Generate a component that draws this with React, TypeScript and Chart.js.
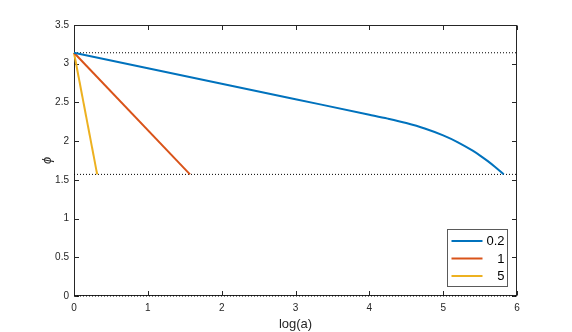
import { useEffect, useRef } from 'react';
import { Chart, registerables } from 'chart.js';

Chart.register(...registerables);

// ---- data ----
const seriesLabels = ['0.2', '1', '5'];
const seriesColors = ['#0072BD', '#D95319', '#EDB120'];

const blueX = [0, 1, 2, 3, 4, 4.25, 4.5, 4.75, 5.0, 5.2, 5.4, 5.5, 5.6, 5.7, 5.76, 5.82];
const blueY = [3.1416, 2.9416, 2.7416, 2.5416, 2.3416, 2.2905, 2.2332, 2.1631, 2.0741, 1.9849, 1.8764, 1.8137, 1.7451, 1.6699, 1.6216, 1.5708];

const redX = [0, 1.571];
const redY = [3.1416, 1.5708];

const yellowX = [0, 0.314];
const yellowY = [3.1416, 1.5708];

const refLevels = [3.1416, 1.5708, 0];
const refX = [0, 6];

const xTicks = [0, 1, 2, 3, 4, 5, 6];
const yTicks = [0, 0.5, 1, 1.5, 2, 2.5, 3, 3.5];

const xTitle = 'log(a)';
const yTitle = 'ϕ';

const FONT = "'Liberation Sans', Arial, Helvetica, sans-serif";
const AXIS_COLOR = '#262626';

const toPts = (xs: number[], ys: number[]) => xs.map((x, i) => ({ x, y: ys[i] }));

const axesBoxPlugin = {
  id: 'axesBox',
  beforeDatasetsDraw(chart: any) {
    const { ctx, chartArea } = chart;
    const xs = chart.scales.x;
    const ys = chart.scales.y;
    const l = Math.round(chartArea.left) + 0.5;
    const r = Math.round(chartArea.right) - 0.5;
    const t = Math.round(chartArea.top) + 0.5;
    const b = Math.round(chartArea.bottom) - 0.5;
    ctx.save();
    ctx.strokeStyle = AXIS_COLOR;
    ctx.lineWidth = 1;
    ctx.strokeRect(l, t, r - l, b - t);
    const tl = 4.5;
    ctx.beginPath();
    xTicks.forEach((v) => {
      const px = Math.round(xs.getPixelForValue(v)) + 0.5;
      ctx.moveTo(px, b);
      ctx.lineTo(px, b - tl);
      ctx.moveTo(px, t);
      ctx.lineTo(px, t + tl);
    });
    yTicks.forEach((v) => {
      const py = Math.round(ys.getPixelForValue(v)) + 0.5;
      ctx.moveTo(l, py);
      ctx.lineTo(l + tl, py);
      ctx.moveTo(r, py);
      ctx.lineTo(r - tl, py);
    });
    ctx.stroke();
    ctx.restore();
  },
};

const legendPlugin = {
  id: 'matlabLegend',
  afterDraw(chart: any) {
    const { ctx, chartArea } = chart;
    const w = 60;
    const h = 57;
    const right = Math.round(chartArea.right) - 9.5;
    const bottom = Math.round(chartArea.bottom) - 9.5;
    const left = right - w;
    const top = bottom - h;
    ctx.save();
    ctx.fillStyle = '#ffffff';
    ctx.fillRect(left, top, w, h);
    ctx.strokeStyle = '#5a5a5a';
    ctx.lineWidth = 1;
    ctx.strokeRect(left, top, w, h);
    ctx.font = `13px ${FONT}`;
    ctx.textAlign = 'right';
    ctx.textBaseline = 'middle';
    const rows = [11.5, 29, 46.5];
    seriesLabels.forEach((lab, i) => {
      const y = top + rows[i];
      ctx.strokeStyle = seriesColors[i];
      ctx.lineWidth = 2;
      ctx.beginPath();
      ctx.moveTo(left + 4, y);
      ctx.lineTo(left + 35, y);
      ctx.stroke();
      ctx.fillStyle = '#000000';
      ctx.fillText(lab, right - 3, y + 0.5);
    });
    ctx.restore();
  },
};

export default function App() {
  const ref = useRef<HTMLCanvasElement | null>(null);

  useEffect(() => {
    if (!ref.current) return;
    Chart.defaults.font.family = FONT;

    const refSets = refLevels.map((lv) => ({
      label: 'ref',
      data: toPts(refX, refX.map(() => lv)),
      borderColor: '#000000',
      borderWidth: 1,
      borderDash: [1, 2],
      pointRadius: 0,
      clip: false as any,
      order: 2,
    }));

    const chart = new Chart(ref.current, {
      type: 'line',
      data: {
        datasets: [
          ...refSets,
          {
            label: seriesLabels[0],
            data: toPts(blueX, blueY),
            borderColor: seriesColors[0],
            borderWidth: 2,
            pointRadius: 0,
            cubicInterpolationMode: 'monotone',
            clip: false as any,
            order: 1,
          },
          {
            label: seriesLabels[1],
            data: toPts(redX, redY),
            borderColor: seriesColors[1],
            borderWidth: 2,
            pointRadius: 0,
            clip: false as any,
            order: 1,
          },
          {
            label: seriesLabels[2],
            data: toPts(yellowX, yellowY),
            borderColor: seriesColors[2],
            borderWidth: 2,
            pointRadius: 0,
            clip: false as any,
            order: 1,
          },
        ],
      },
      options: {
        animation: false,
        responsive: false,
        layout: { padding: { top: 25, right: 55, left: 0, bottom: 0 } },
        plugins: {
          legend: { display: false },
          tooltip: { enabled: false },
        },
        scales: {
          x: {
            type: 'linear',
            min: 0,
            max: 6,
            grid: { display: false, drawTicks: false },
            border: { display: false },
            afterBuildTicks: (s: any) => {
              s.ticks = xTicks.map((v) => ({ value: v }));
            },
            afterFit: (s: any) => {
              s.height = 36;
            },
            ticks: {
              padding: 6,
              color: AXIS_COLOR,
              font: { size: 10 },
              maxRotation: 0,
              autoSkip: false,
              callback: (v: any) => String(Number(v)),
            },
            title: {
              display: true,
              text: xTitle,
              color: AXIS_COLOR,
              font: { size: 13 },
              padding: { top: 0, bottom: 0 },
            },
          },
          y: {
            type: 'linear',
            min: 0,
            max: 3.5,
            grid: { display: false, drawTicks: false },
            border: { display: false },
            afterBuildTicks: (s: any) => {
              s.ticks = yTicks.map((v) => ({ value: v }));
            },
            afterFit: (s: any) => {
              s.width = 74;
            },
            ticks: {
              padding: 5,
              color: AXIS_COLOR,
              font: { size: 10 },
              autoSkip: false,
              callback: (v: any) => String(Number(v)),
            },
            title: {
              display: true,
              text: yTitle,
              color: AXIS_COLOR,
              font: { size: 13, style: 'italic' },
              padding: { top: 40, bottom: 0 },
            },
          },
        },
      },
      plugins: [axesBoxPlugin, legendPlugin],
    });

    return () => chart.destroy();
  }, []);

  return (
    <canvas
      ref={ref}
      width={572}
      height={332}
      style={{ position: 'absolute', left: 0, top: 0, width: 572, height: 332 }}
    />
  );
}
